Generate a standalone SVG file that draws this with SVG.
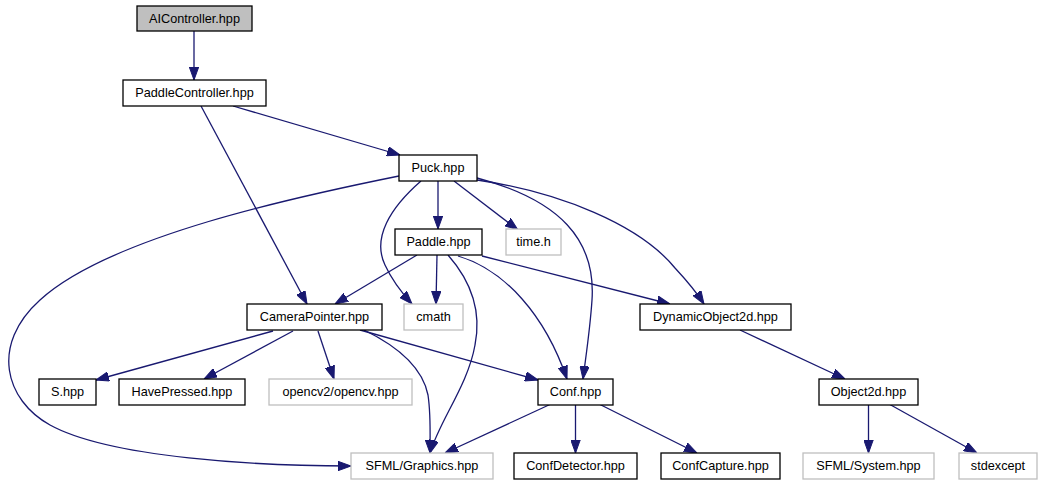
<svg xmlns="http://www.w3.org/2000/svg" width="1043" height="485" viewBox="0 0 1043 485">
<defs>
<marker id="ah" markerUnits="userSpaceOnUse" markerWidth="13" markerHeight="10" refX="13" refY="5" orient="auto">
<path d="M0,0.3 L13,5 L0,9.7 z" fill="#191970" stroke="#191970" stroke-width="1"/>
</marker>
<style>
.n rect{fill:#fff;stroke:#000;stroke-width:1.3}
.x rect{fill:#fff;stroke:#bfbfbf;stroke-width:1.3}
#AIController rect{fill:#bfbfbf}
text{font-family:"Liberation Sans",Arial,sans-serif;font-size:12.7px;text-anchor:middle;fill:#000}
#edges path{fill:none;stroke:#191970;stroke-width:1.3;marker-end:url(#ah)}
</style>
</defs>
<rect width="1043" height="485" fill="#fff"/>
<g id="edges">
<path d="M194,31 L194,80"/>
<path d="M233,106 L400,155"/>
<path d="M201,106 L307,304"/>
<path d="M438,181 L438,229"/>
<path d="M454,181 L518,230"/>
<path d="M421,181 C390,208 372,238 385,265 C391,278 401,292 412,304"/>
<path d="M399,176 C300,196 110,236 40,300 C-10,345 5,400 50,425 C110,458 260,466 351,466"/>
<path d="M477,178 C560,200 596,240 592,300 C590,330 586,355 583,379"/>
<path d="M477,180 C560,192 640,225 675,268 C688,282 697,293 704,304"/>
<path d="M417,255 L335,304"/>
<path d="M437,255 L436,304"/>
<path d="M448,255 C470,280 482,310 475,345 C468,385 440,420 430,453"/>
<path d="M458,256 C505,270 545,315 567,379"/>
<path d="M482,256 L670,304"/>
<path d="M273,331 L96,380"/>
<path d="M293,331 L204,379"/>
<path d="M318,331 L334,379"/>
<path d="M360,330 L538,380"/>
<path d="M364,330 C395,345 422,365 428,395 C431,415 430,435 430,453"/>
<path d="M551,404 L445,453"/>
<path d="M575.5,405 L575.5,453"/>
<path d="M599,404 L697,453"/>
<path d="M740,330 L845,379"/>
<path d="M868.5,405 L868.5,453"/>
<path d="M889,404 L977,453"/>
</g>
<g id="AIController" class="n"><rect x="137" y="6" width="115" height="25"/><text x="194.5" y="22.5">AIController.hpp</text></g>
<g id="PaddleController" class="n"><rect x="123" y="80" width="143" height="26"/><text x="194.5" y="97">PaddleController.hpp</text></g>
<g id="Puck" class="n"><rect x="399" y="155" width="78" height="26"/><text x="438" y="172">Puck.hpp</text></g>
<g id="Paddle" class="n"><rect x="395" y="229" width="87" height="26"/><text x="438.5" y="246">Paddle.hpp</text></g>
<g id="time_h" class="x"><rect x="506" y="229" width="55" height="26"/><text x="533.5" y="246">time.h</text></g>
<g id="CameraPointer" class="n"><rect x="247" y="304" width="135" height="26"/><text x="314.5" y="321">CameraPointer.hpp</text></g>
<g id="cmath" class="x"><rect x="404" y="304" width="59" height="26"/><text x="433.5" y="321">cmath</text></g>
<g id="DynamicObject2d" class="n"><rect x="640" y="304" width="151" height="26"/><text x="715.5" y="321">DynamicObject2d.hpp</text></g>
<g id="S" class="n"><rect x="39" y="379" width="57" height="26"/><text x="67.5" y="396">S.hpp</text></g>
<g id="HavePressed" class="n"><rect x="119" y="379" width="126" height="26"/><text x="182" y="396">HavePressed.hpp</text></g>
<g id="opencv" class="x"><rect x="269" y="379" width="143" height="26"/><text x="340.5" y="396">opencv2/opencv.hpp</text></g>
<g id="Conf" class="n"><rect x="538" y="379" width="75" height="26"/><text x="575.5" y="396">Conf.hpp</text></g>
<g id="Object2d" class="n"><rect x="819" y="379" width="99" height="26"/><text x="868.5" y="396">Object2d.hpp</text></g>
<g id="SFMLGraphics" class="x"><rect x="351" y="453" width="142" height="26"/><text x="422" y="470">SFML/Graphics.hpp</text></g>
<g id="ConfDetector" class="n"><rect x="514" y="453" width="123" height="26"/><text x="575.5" y="470">ConfDetector.hpp</text></g>
<g id="ConfCapture" class="n"><rect x="661" y="453" width="119" height="26"/><text x="720.5" y="470">ConfCapture.hpp</text></g>
<g id="SFMLSystem" class="x"><rect x="803" y="453" width="131" height="26"/><text x="868.5" y="470">SFML/System.hpp</text></g>
<g id="stdexcept" class="x"><rect x="959" y="453" width="78" height="26"/><text x="998" y="470">stdexcept</text></g>
</svg>
